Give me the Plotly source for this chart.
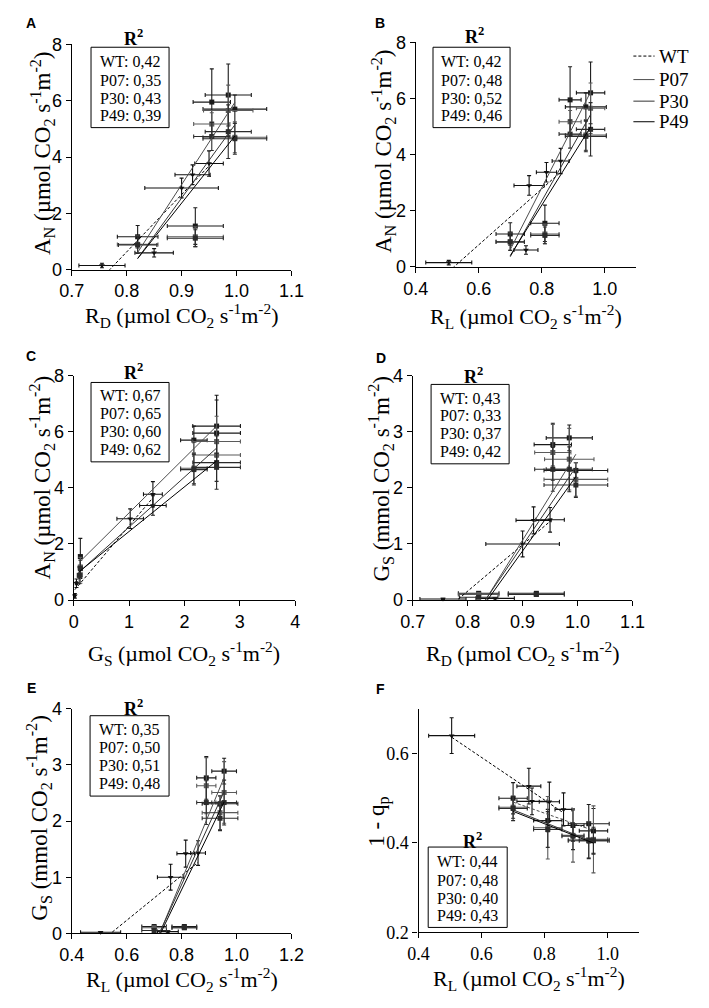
import numpy as np
import plotly.graph_objects as go

W, H = 709, 1008

genotypes = ["WT", "P07", "P30", "P49"]
group = [g for g in genotypes for _ in range(5)]

# five conditions per genotype, order: WT, P07, P30, P49
rd = [0.755, 0.85, 0.90, 0.92, 0.95,
      0.82, 0.925, 0.955, 0.985, 0.997,
      0.82, 0.925, 0.955, 0.985, 0.997,
      0.82, 0.925, 0.955, 0.985, 0.997]
rd_err = [0.042, 0.035, 0.067, 0.032, 0.026,
          0.037, 0.051, 0.034, 0.042, 0.058,
          0.037, 0.051, 0.033, 0.045, 0.058,
          0.035, 0.051, 0.033, 0.042, 0.058]

rl = [0.505, 0.75, 0.76, 0.815, 0.86,
      0.70, 0.81, 0.89, 0.955, 0.94,
      0.70, 0.81, 0.89, 0.955, 0.94,
      0.70, 0.81, 0.89, 0.955, 0.94]
rl_err = [0.073, 0.038, 0.048, 0.032, 0.027,
          0.045, 0.045, 0.035, 0.045, 0.065,
          0.045, 0.045, 0.035, 0.045, 0.065,
          0.045, 0.045, 0.035, 0.045, 0.065]

an = [0.15, 0.6, 2.9, 3.37, 3.77,
      1.17, 1.55, 5.95, 6.2, 5.7,
      0.9, 1.17, 5.17, 5.65, 4.7,
      0.88, 1.12, 4.73, 4.9, 4.65]
an_err = [0.08, 0.15, 0.35, 0.35, 0.45,
          0.4, 0.65, 1.18, 1.1, 0.5,
          0.3, 0.35, 0.4, 0.9, 0.55,
          0.3, 0.3, 0.5, 0.95, 0.55]

gs_c = [0.02, 0.05, 1.02, 1.43, 1.43,
        0.12, 0.12, 2.58, 2.58, 2.17,
        0.12, 0.12, 2.58, 2.58, 2.17,
        0.1, 0.12, 2.58, 2.58, 2.17]
gs_c_err = [0.01, 0.02, 0.24, 0.24, 0.17,
            0.03, 0.03, 0.43, 0.43, 0.24,
            0.03, 0.03, 0.43, 0.43, 0.24,
            0.03, 0.03, 0.43, 0.43, 0.24]

gs = [0.02, 0.03, 1.0, 1.42, 1.43,
      0.12, 0.12, 2.77, 2.89, 2.31,
      0.1, 0.1, 2.63, 2.51, 2.15,
      0.05, 0.1, 2.33, 2.33, 2.05]
gs_err = [0.01, 0.01, 0.23, 0.24, 0.22,
          0.03, 0.03, 0.38, 0.23, 0.14,
          0.03, 0.03, 0.5, 0.55, 0.3,
          0.02, 0.03, 0.39, 0.4, 0.22]

qp = [0.64, 0.527, 0.493, 0.492, 0.475,
      0.50, 0.45, 0.439, 0.427, 0.443,
      0.48, 0.434, 0.417, 0.408, 0.407,
      0.477, 0.43, 0.415, 0.405, 0.405]
qp_err = [0.04, 0.04, 0.03, 0.044, 0.037,
          0.035, 0.025, 0.035, 0.05, 0.043,
          0.025, 0.07, 0.06, 0.075, 0.04,
          0.027, 0.04, 0.03, 0.03, 0.04]

r2_a = ["0,42", "0,35", "0,43", "0,39"]
r2_b = ["0,42", "0,48", "0,52", "0,46"]
r2_c = ["0,67", "0,65", "0,60", "0,62"]
r2_d = ["0,43", "0,33", "0,37", "0,42"]
r2_e = ["0,35", "0,50", "0,51", "0,48"]
r2_f = ["0,44", "0,48", "0,40", "0,43"]


def fx(px):
    return px / W


def fy(py):
    return 1 - py / H


UNIT = " (µmol CO<sub>2</sub> s<sup>-1</sup>m<sup>-2</sup>)"
UNIT_MM = " (mmol CO<sub>2</sub> s<sup>-1</sup>m<sup>-2</sup>)"

# pixel boxes of plot areas: left, right, top, bottom
panels = [
    dict(name="A", x=rd, ex=rd_err, y=an, ey=an_err, r2=r2_a,
         box=(61, 289, 35, 265), xr=[0.7, 1.1], xd=0.1, yr=[0, 8], yd=2,
         xfmt=".1f", yfmt="", xtitle="R<sub>D</sub>" + UNIT, ytitle="A<sub>N</sub>" + UNIT,
         xt=(175, 312), yt=(30, 146), letter=(19, 13),
         rbox=(81, 162, 38, 120), rlab=(125, 28), rlines=[53, 72, 90, 108]),
    dict(name="B", x=rl, ex=rl_err, y=an, ey=an_err, r2=r2_b,
         box=(418, 647, 33, 262), xr=[0.4, 1.1], xd=0.2, yr=[0, 8], yd=2,
         xfmt=".1f", yfmt="", xtitle="R<sub>L</sub>" + UNIT, ytitle="A<sub>N</sub>" + UNIT,
         xt=(533, 313), yt=(384, 144), letter=(381, 13),
         rbox=(436, 516, 38, 120), rlab=(479, 26), rlines=[53, 72, 90, 108]),
    dict(name="C", x=gs_c, ex=gs_c_err, y=an, ey=an_err, r2=r2_c,
         box=(63, 293, 373, 602), xr=[0, 4], xd=1, yr=[0, 8], yd=2,
         xfmt="", yfmt="", xtitle="G<sub>S</sub>" + UNIT, ytitle="A<sub>N</sub>" + UNIT,
         xt=(177, 657), yt=(30, 477), letter=(19, 353),
         rbox=(81, 162, 380, 461), rlab=(125, 369), rlines=[393, 412, 430, 448]),
    dict(name="D", x=rd, ex=rd_err, y=gs, ey=gs_err, r2=r2_d,
         box=(415, 643, 373, 602), xr=[0.7, 1.1], xd=0.1, yr=[0, 4], yd=1,
         xfmt=".1f", yfmt="", xtitle="R<sub>D</sub>" + UNIT, ytitle="G<sub>S</sub>" + UNIT_MM,
         xt=(529, 657), yt=(382, 478), letter=(382, 355),
         rbox=(434, 515, 382, 463), rlab=(478, 373), rlines=[396, 414, 432, 450]),
    dict(name="E", x=rl, ex=rl_err, y=gs, ey=gs_err, r2=r2_e,
         box=(61, 289, 713, 942), xr=[0.4, 1.2], xd=0.2, yr=[0, 4], yd=1,
         xfmt=".1f", yfmt="", xtitle="R<sub>L</sub>" + UNIT, ytitle="G<sub>S</sub>" + UNIT_MM,
         xt=(175, 989), yt=(27, 825), letter=(19, 692),
         rbox=(80, 162, 720, 802), rlab=(125, 712), rlines=[734, 752, 771, 789]),
    dict(name="F", x=rl, ex=rl_err, y=qp, ey=qp_err, r2=r2_f,
         box=(421, 650, 713, 941), xr=[0.4, 1.1], xd=0.2, yr=[0.2, 0.7], yd=0.2,
         xfmt=".1f", yfmt=".1f", xtitle="R<sub>L</sub>" + UNIT, ytitle="1 - q<sub>p</sub>",
         xt=(536, 988), yt=(380, 828), letter=(382, 693),
         rbox=(431, 513, 854, 936), rlab=(477, 847), rlines=[869, 888, 906, 924]),
]

line_style = {
    "WT": dict(color="black", width=1, dash="3px,2px"),
    "P07": dict(color="#4d4d4d", width=1),
    "P30": dict(color="#333333", width=1),
    "P49": dict(color="black", width=1),
}
point_color = {"WT": "#111111", "P07": "#1a1a1a", "P30": "#5a5a5a", "P49": "#2b2b2b"}
point_symbol = {"WT": "triangle-down", "P07": "square", "P30": "square", "P49": "square"}

SANS = "Liberation Sans, Arial, sans-serif"
SERIF = "Liberation Serif, Times New Roman, serif"

fig = go.Figure()
annotations = []
shapes = []

for i, p in enumerate(panels):
    n = "" if i == 0 else str(i + 1)
    xa, ya = "x" + n, "y" + n
    for g in genotypes:
        idx = [k for k, gg in enumerate(group) if gg == g]
        xs = np.array([p["x"][k] for k in idx])
        ys = np.array([p["y"][k] for k in idx])
        exs = [p["ex"][k] for k in idx]
        eys = [p["ey"][k] for k in idx]
        c = point_color[g]
        fig.add_trace(go.Scatter(
            x=xs, y=ys, mode="markers", xaxis=xa, yaxis=ya, showlegend=False,
            marker=dict(symbol=point_symbol[g], size=5, color=c),
            error_x=dict(type="data", array=exs, color=c, thickness=1.1, width=2),
            error_y=dict(type="data", array=eys, color=c, thickness=1.1, width=2),
            cliponaxis=False,
        ))
    # regression line of each genotype over its own x span
    for g in genotypes:
        idx = [k for k, gg in enumerate(group) if gg == g]
        xs = np.array([p["x"][k] for k in idx])
        ys = np.array([p["y"][k] for k in idx])
        k1, k0 = np.polyfit(xs, ys, 1)
        xl = np.array([xs.min(), xs.max()])
        st = dict(line_style[g])
        if p["name"] == "F" and g == "P07":
            st["dash"] = "3px,2px"
        fig.add_trace(go.Scatter(
            x=xl, y=k1 * xl + k0, mode="lines", xaxis=xa, yaxis=ya,
            showlegend=False, line=st, hoverinfo="skip",
        ))

    l, r, t, b = p["box"]
    tickfont = dict(family=SERIF if p["name"] == "F" else SANS, size=18, color="black")
    common = dict(showline=True, linecolor="black", linewidth=1.3, ticks="outside",
                  ticklen=5, tickwidth=1.3, tickcolor="black", showgrid=False,
                  zeroline=False, tickfont=tickfont, fixedrange=True)
    fig.update_layout(**{
        ("xaxis" + n): dict(domain=[fx(l), fx(r)], range=p["xr"], dtick=p["xd"],
                            tick0=p["xr"][0], tickformat=p["xfmt"], anchor=ya, **common),
        ("yaxis" + n): dict(domain=[fy(b), fy(t)], range=p["yr"], dtick=p["yd"],
                            tick0=p["yr"][0], tickformat=p["yfmt"], anchor=xa, **common),
    })

    annotations.append(dict(x=fx(p["xt"][0]), y=fy(p["xt"][1]), xref="paper", yref="paper",
                            text=p["xtitle"], showarrow=False, xanchor="center", yanchor="middle",
                            font=dict(family=SERIF, size=22, color="black")))
    annotations.append(dict(x=fx(p["yt"][0]), y=fy(p["yt"][1]), xref="paper", yref="paper",
                            text=p["ytitle"], showarrow=False, xanchor="center", yanchor="middle",
                            textangle=-90, font=dict(family=SERIF, size=23, color="black")))
    annotations.append(dict(x=fx(p["letter"][0]), y=fy(p["letter"][1]), xref="paper", yref="paper",
                            text="<b>" + p["name"] + "</b>", showarrow=False,
                            xanchor="center", yanchor="middle",
                            font=dict(family=SANS, size=14, color="black")))

    # R² box
    bl, br, bt, bb = p["rbox"]
    shapes.append(dict(type="rect", xref="paper", yref="paper", x0=fx(bl), x1=fx(br),
                       y0=fy(bb), y1=fy(bt), line=dict(color="black", width=1)))
    annotations.append(dict(x=fx(p["rlab"][0]), y=fy(p["rlab"][1]), xref="paper", yref="paper",
                            text="<b>R<sup>2</sup></b>", showarrow=False,
                            xanchor="center", yanchor="middle",
                            font=dict(family=SERIF, size=18, color="black")))
    for g, val, ly in zip(genotypes, p["r2"], p["rlines"]):
        annotations.append(dict(x=fx((bl + br) / 2), y=fy(ly), xref="paper", yref="paper",
                                text=f"{g}: {val}", showarrow=False,
                                xanchor="center", yanchor="middle",
                                font=dict(family=SERIF, size=16, color="black")))

# legend beside panel B
for g, ly in zip(genotypes, [47, 71, 93, 114]):
    st = dict(line_style[g])
    shapes.append(dict(type="line", xref="paper", yref="paper", x0=fx(644), x1=fx(666),
                       y0=fy(ly), y1=fy(ly), line=st))
    annotations.append(dict(x=fx(669), y=fy(ly), xref="paper", yref="paper", text=g,
                            showarrow=False, xanchor="left", yanchor="middle",
                            font=dict(family=SERIF, size=19, color="black")))

fig.update_layout(
    width=W, height=H, margin=dict(l=0, r=0, t=0, b=0),
    paper_bgcolor="white", plot_bgcolor="white",
    annotations=annotations, shapes=shapes, showlegend=False,
)

fig.write_html("out.html", config={"displayModeBar": False},
               post_script="document.body.style.margin='0px';")
